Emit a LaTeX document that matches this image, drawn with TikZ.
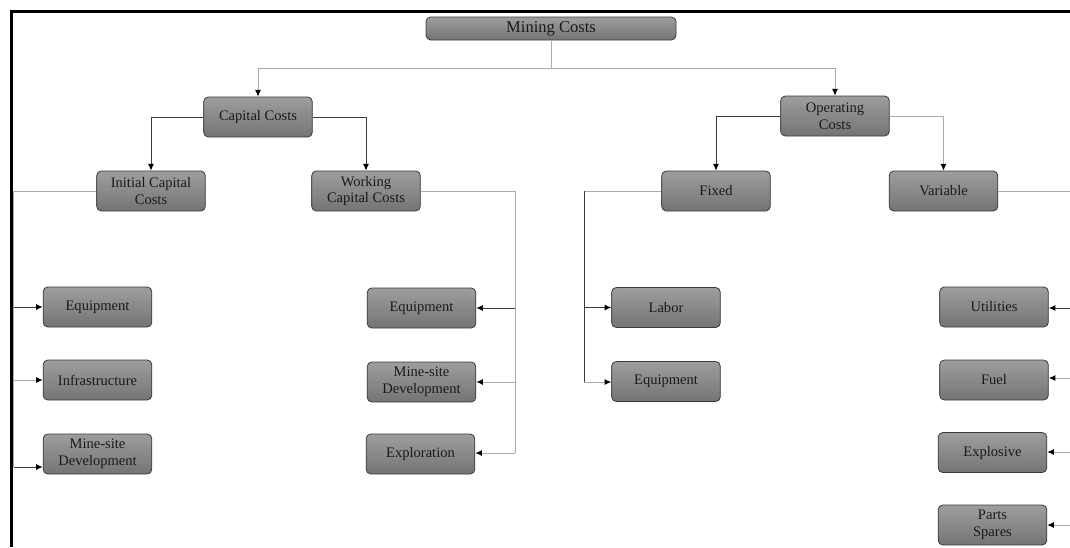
\documentclass[tikz,border=0pt]{standalone}
\usepackage{fontspec}
\setmainfont{Liberation Serif}
\usetikzlibrary{arrows.meta}
\definecolor{boxtop}{HTML}{9E9E9E}
\definecolor{boxbot}{HTML}{747474}
\definecolor{boxline}{HTML}{3A3A3A}
\definecolor{lgray}{HTML}{ABABAB}
\definecolor{dgray}{HTML}{3C3C3C}
\definecolor{txt}{HTML}{1A1A1A}
\tikzset{
  costbox/.style={draw=boxline, line width=0.6pt, rounded corners=3.5pt,
    top color=boxtop, bottom color=boxbot, minimum width=81.5pt, minimum height=30pt,
    inner sep=1pt, align=center, text=txt, font=\fontsize{10.9}{12.7}\selectfont},
  light/.style={draw=lgray, line width=0.75pt},
  dark/.style={draw=dgray, line width=0.75pt},
  tip/.style={-{Latex[length=5pt,width=4.5pt,color=black]}}
}
\begin{document}
\begin{tikzpicture}[x=0.75pt,y=-0.75pt]
\useasboundingbox (0,0) rectangle (1070,547);
\clip (0,0) rectangle (1070,547);
% frame
\draw[black, line width=2pt] (11.5,547) -- (11.5,11.5) -- (1070,11.5);

% nodes
\node[costbox, minimum width=187.5pt, minimum height=17.25pt, font=\fontsize{12.4}{14}\selectfont] (mc) at (551,28.5) {Mining Costs};
\node[costbox] (cap) at (258,117) {Capital Costs};
\node[costbox] (op) at (835,116) {Operating\\Costs};
\node[costbox] (icc) at (151,191) {Initial Capital\\Costs};
\node[costbox] (wcc) at (366,191) {Working\\Capital Costs};
\node[costbox] (fix) at (716,191) {Fixed};
\node[costbox] (var) at (943.5,191) {Variable};

\node[costbox] (e1) at (97.5,307) {Equipment};
\node[costbox] (inf) at (97.5,380) {Infrastructure};
\node[costbox] (msd1) at (97.5,454) {Mine-site\\Development};

\node[costbox] (e2) at (421.5,308) {Equipment};
\node[costbox] (msd2) at (421.5,382) {Mine-site\\Development};
\node[costbox] (expl) at (420.5,454) {Exploration};

\node[costbox] (lab) at (666,307.5) {Labor};
\node[costbox] (e3) at (666,381.5) {Equipment};

\node[costbox] (util) at (994,307) {Utilities};
\node[costbox] (fuel) at (994,380) {Fuel};
\node[costbox] (explo) at (992.5,452.5) {Explosive};
\node[costbox] (parts) at (992.5,525) {Parts\\Spares};

% top bus
\coordinate (bus) at (551,68);
\draw[light] (mc.south) -- (bus);
\draw[light, tip] (bus) -| (cap.north);
\draw[light, tip] (bus) -| (op.north);

% second level
\draw[dark, tip] (cap.west) -| (icc.north);
\draw[dark, tip] (cap.east) -| (wcc.north);
\draw[dark, tip] (op.west) -| (fix.north);
\draw[light, tip] (op.east) -| (var.north);

% initial capital bus
\coordinate (lb) at (13.5,191);
\coordinate (lb3) at (13.5,467);
\draw[light] (icc.west) -- (lb) -- (lb3);
\draw[dark, tip] (lb |- e1) -- (e1.west);
\draw[light, tip] (lb |- inf) -- (inf.west);
\draw[dark, tip] (lb3) -- (msd1.west |- lb3);

% working capital bus
\coordinate (wb) at (515,191);
\coordinate (wb3) at (515,453);
\draw[light] (wcc.east) -- (wb) -- (wb3);
\draw[dark, tip] (wb |- e2) -- (e2.east);
\draw[light, tip] (wb |- msd2) -- (msd2.east);
\draw[light, tip] (wb3) -- (expl.east |- wb3);

% fixed bus
\coordinate (fb) at (584,191);
\coordinate (fb2) at (584,382);
\draw[light] (fix.west) -- (fb);
\draw[dark] (fb) -- (fb2);
\draw[dark, tip] (fb |- lab) -- (lab.west);
\draw[light, tip] (fb2) -- (e3.west |- fb2);

% variable bus (runs off the right edge)
\coordinate (vb) at (1072,191);
\coordinate (vu) at (1072,308);
\coordinate (vf) at (1072,378);
\coordinate (ve) at (1072,452);
\coordinate (vp) at (1072,525);
\draw[light] (var.east) -- (vb);
\draw[dark, tip] (vu) -- (util.east |- vu);
\draw[light, tip] (vf) -- (fuel.east |- vf);
\draw[light, tip] (ve) -- (explo.east |- ve);
\draw[light, tip] (vp) -- (parts.east |- vp);
\end{tikzpicture}
\end{document}
